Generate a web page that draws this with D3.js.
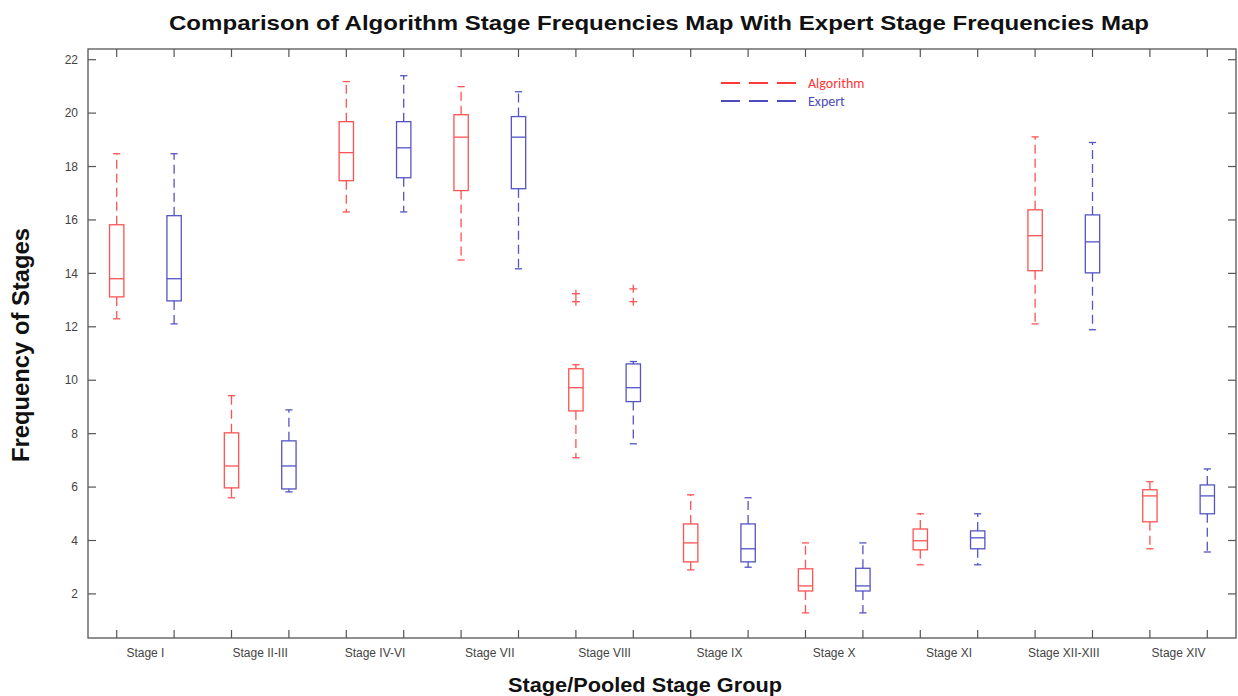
<!DOCTYPE html>
<html>
<head>
<meta charset="utf-8">
<script src="https://d3js.org/d3.v7.min.js"></script>
<style>
  body { margin: 0; background: #fff; }
  svg { display: block; font-family: "Liberation Sans", Arial, sans-serif; }
</style>
</head>
<body>
<svg width="1238" height="696"></svg>
<script>
// stage groups along the x axis
const stages = ['Stage I', 'Stage II-III', 'Stage IV-VI', 'Stage VII', 'Stage VIII',
                'Stage IX', 'Stage X', 'Stage XI', 'Stage XII-XIII', 'Stage XIV'];

// box stats per stage: [lower whisker, Q1, median, Q3, upper whisker]
const algorithm = [
  [12.3, 13.12, 13.8, 15.82, 18.48],
  [5.6, 5.97, 6.79, 8.03, 9.42],
  [16.3, 17.47, 18.52, 19.68, 21.18],
  [14.5, 17.1, 19.1, 19.94, 20.99],
  [7.1, 8.85, 9.72, 10.43, 10.58],
  [2.9, 3.2, 3.91, 4.62, 5.71],
  [1.29, 2.11, 2.3, 2.94, 3.91],
  [3.09, 3.65, 3.99, 4.43, 5.0],
  [12.11, 14.1, 15.41, 16.38, 19.11],
  [3.69, 4.7, 5.67, 5.9, 6.2]
];
const expert = [
  [12.11, 12.97, 13.8, 16.16, 18.48],
  [5.82, 5.93, 6.79, 7.73, 8.89],
  [16.3, 17.58, 18.7, 19.68, 21.4],
  [14.17, 17.17, 19.1, 19.87, 20.8],
  [7.62, 9.2, 9.72, 10.61, 10.7],
  [3.0, 3.2, 3.69, 4.62, 5.6],
  [1.29, 2.11, 2.3, 2.96, 3.91],
  [3.09, 3.69, 4.1, 4.36, 5.0],
  [11.89, 14.02, 15.18, 16.19, 18.9],
  [3.57, 5.0, 5.67, 6.08, 6.68]
];
// outliers (stage index, value) -- both drawn red in the original
const algorithmOutliers = [[4, 13.24], [4, 12.94]];
const expertOutliers = [[4, 13.42], [4, 12.94]];

const yTicks = [2, 4, 6, 8, 10, 12, 14, 16, 18, 20, 22];

const red = '#ff5252';
const blue = '#5454c4';
const frameColor = '#555';

const svg = d3.select('svg');
const plotLeft = 88, plotRight = 1236, plotTop = 49, plotBottom = 638;

// 20 box positions, two per stage
const x = d3.scaleLinear().domain([0.5, 20.5]).range([plotLeft, plotRight]);
const y = d3.scaleLinear().domain([0.35, 22.4]).range([plotBottom, plotTop]);
const boxW = x(1.25) - x(1);
const capW = boxW / 2;

// frame
svg.append('rect')
   .attr('x', plotLeft).attr('y', plotTop)
   .attr('width', plotRight - plotLeft).attr('height', plotBottom - plotTop)
   .attr('fill', 'none').attr('stroke', frameColor).attr('stroke-width', 1.3);

const positions = d3.range(1, 21);
const tickLen = 8;

// ticks on all four sides, pointing in
const ticks = svg.append('g').attr('stroke', frameColor).attr('stroke-width', 1.2);
positions.forEach(p => {
  ticks.append('line').attr('x1', x(p)).attr('x2', x(p)).attr('y1', plotBottom).attr('y2', plotBottom - tickLen);
  ticks.append('line').attr('x1', x(p)).attr('x2', x(p)).attr('y1', plotTop).attr('y2', plotTop + tickLen);
});
yTicks.forEach(v => {
  ticks.append('line').attr('x1', plotLeft).attr('x2', plotLeft + tickLen).attr('y1', y(v)).attr('y2', y(v));
  ticks.append('line').attr('x1', plotRight).attr('x2', plotRight - tickLen).attr('y1', y(v)).attr('y2', y(v));
});

// y tick labels
svg.append('g').selectAll('text').data(yTicks).join('text')
   .attr('x', plotLeft - 10).attr('y', d => y(d)).attr('dy', '0.35em')
   .attr('text-anchor', 'end').attr('font-size', 12).attr('fill', '#444')
   .text(d => d);

// category labels between each pair
svg.append('g').selectAll('text').data(stages).join('text')
   .attr('x', (d, i) => x(2 * i + 1.5)).attr('y', 657)
   .attr('text-anchor', 'middle').attr('font-size', 12).attr('fill', '#444')
   .text(d => d);

function drawBoxes(data, offset, color) {
  const g = svg.append('g').attr('stroke', color).attr('fill', 'none').attr('stroke-width', 1.3);
  data.forEach((s, i) => {
    const cx = x(2 * i + 1 + offset);
    const [lo, q1, med, q3, hi] = s;
    g.append('line').attr('x1', cx).attr('x2', cx).attr('y1', y(q3)).attr('y2', y(hi))
     .attr('stroke-dasharray', '9,5');
    g.append('line').attr('x1', cx).attr('x2', cx).attr('y1', y(q1)).attr('y2', y(lo))
     .attr('stroke-dasharray', '9,5');
    g.append('line').attr('x1', cx - capW / 2).attr('x2', cx + capW / 2).attr('y1', y(hi)).attr('y2', y(hi));
    g.append('line').attr('x1', cx - capW / 2).attr('x2', cx + capW / 2).attr('y1', y(lo)).attr('y2', y(lo));
    g.append('rect').attr('x', cx - boxW / 2).attr('y', y(q3))
     .attr('width', boxW).attr('height', y(q1) - y(q3));
    g.append('line').attr('x1', cx - boxW / 2).attr('x2', cx + boxW / 2).attr('y1', y(med)).attr('y2', y(med));
  });
}
drawBoxes(algorithm, 0, red);
drawBoxes(expert, 1, blue);

function drawOutliers(data, offset) {
  const g = svg.append('g').attr('stroke', red).attr('stroke-width', 1.3);
  data.forEach(([i, v]) => {
    const cx = x(2 * i + 1 + offset), cy = y(v);
    g.append('line').attr('x1', cx - 4).attr('x2', cx + 4).attr('y1', cy).attr('y2', cy);
    g.append('line').attr('x1', cx).attr('x2', cx).attr('y1', cy - 4).attr('y2', cy + 4);
  });
}
drawOutliers(algorithmOutliers, 0);
drawOutliers(expertOutliers, 1);

// legend
const legend = [['Algorithm', '#ff3838'], ['Expert', '#4c4cbc']];
legend.forEach(([name, c], i) => {
  const ly = 83 + i * 18;
  svg.append('line').attr('x1', 721).attr('x2', 797).attr('y1', ly).attr('y2', ly)
     .attr('stroke', c).attr('stroke-width', 2).attr('stroke-dasharray', '19,9');
  svg.append('text').attr('x', 808).attr('y', ly).attr('dy', '0.35em')
     .attr('font-family', 'Carlito, "Open Sans", sans-serif').attr('font-size', 14).attr('fill', c)
     .text(name);
});

// titles
svg.append('text').attr('x', 659).attr('y', 30).attr('text-anchor', 'middle')
   .attr('font-size', 21).attr('font-weight', 'bold').attr('fill', '#111')
   .attr('textLength', 980).attr('lengthAdjust', 'spacingAndGlyphs')
   .text('Comparison of Algorithm Stage Frequencies Map With Expert Stage Frequencies Map');
svg.append('text').attr('x', 645).attr('y', 692).attr('text-anchor', 'middle')
   .attr('font-size', 21).attr('font-weight', 'bold').attr('fill', '#111')
   .attr('textLength', 274).attr('lengthAdjust', 'spacingAndGlyphs')
   .text('Stage/Pooled Stage Group');
svg.append('text').attr('transform', `translate(29, 345) rotate(-90)`)
   .attr('text-anchor', 'middle')
   .attr('font-size', 23).attr('font-weight', 'bold').attr('fill', '#111')
   .attr('textLength', 234).attr('lengthAdjust', 'spacingAndGlyphs')
   .text('Frequency of Stages');
</script>
</body>
</html>
